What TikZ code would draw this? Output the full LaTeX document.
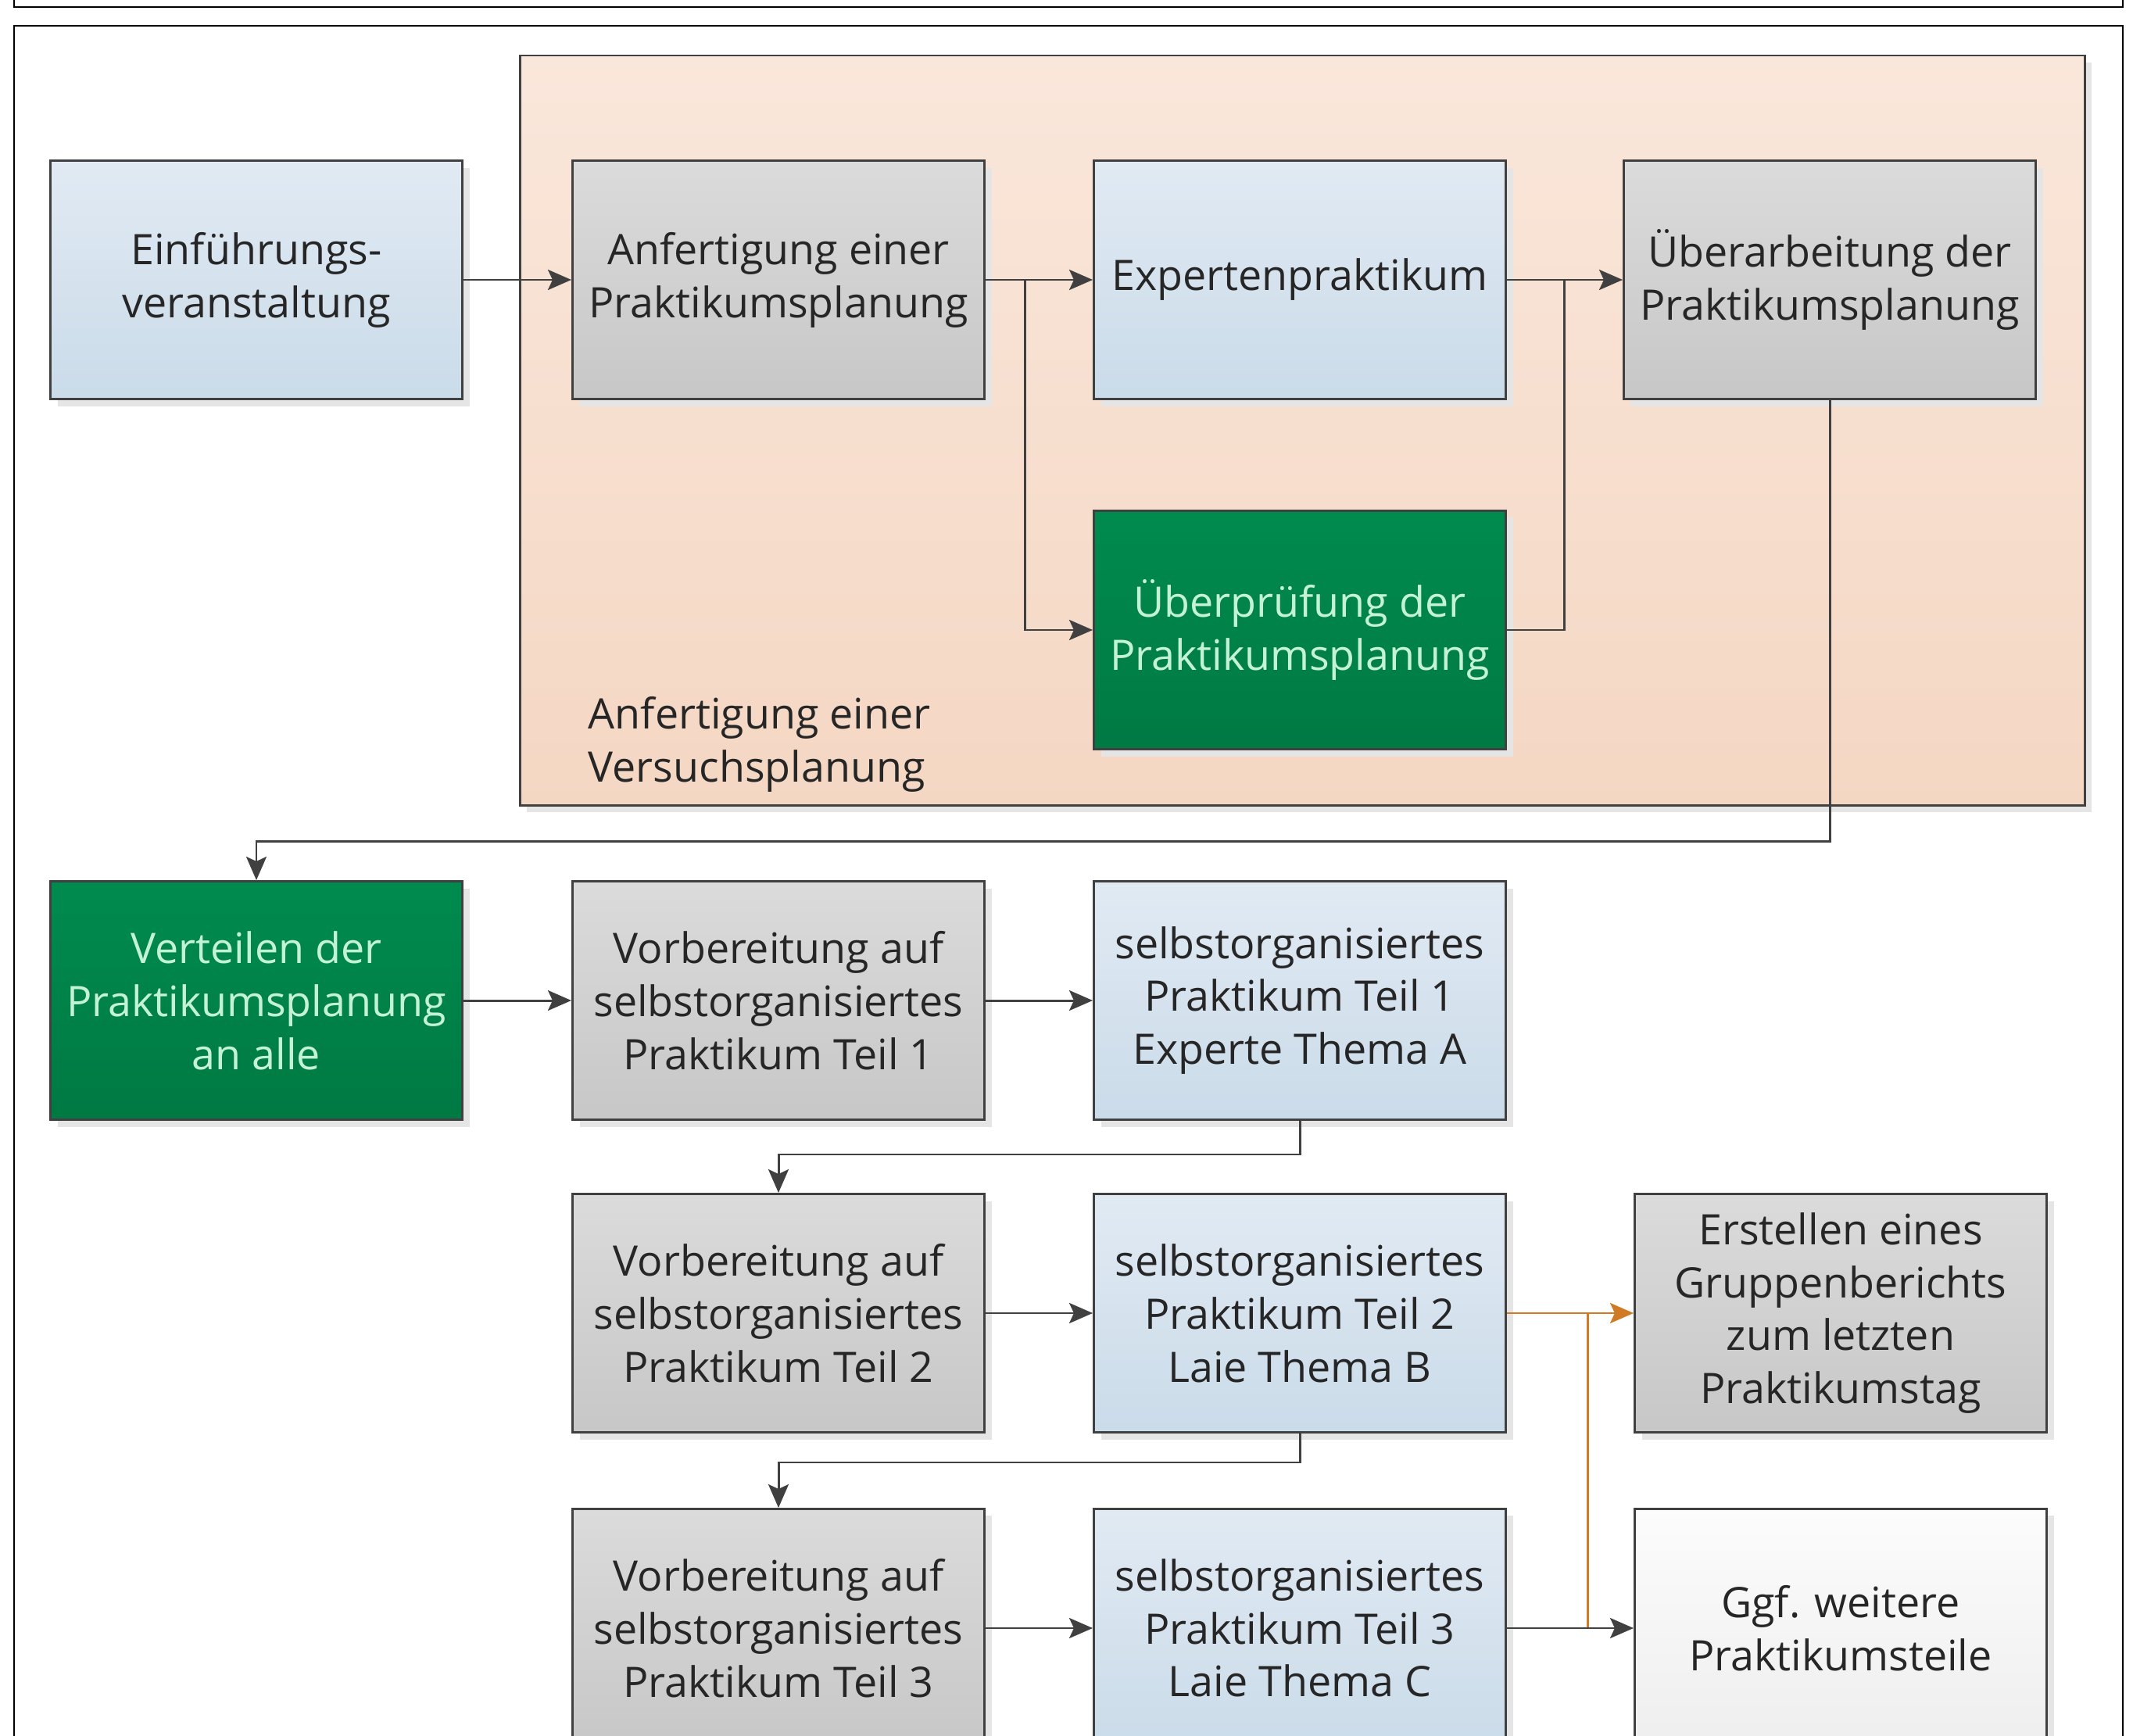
\documentclass[tikz,border=0pt]{standalone}
\usepackage{fontspec}
\setmainfont{Open Sans}
\usepackage{tikz}
\usetikzlibrary{arrows.meta,positioning,calc,shadows}

\definecolor{blueT}{HTML}{E1EAF3}
\definecolor{blueB}{HTML}{CADBE9}
\definecolor{grayT}{HTML}{DBDBDB}
\definecolor{grayB}{HTML}{C7C7C7}
\definecolor{greenT}{HTML}{008B4E}
\definecolor{greenB}{HTML}{007943}
\definecolor{greenTxt}{HTML}{C4F2D6}
\definecolor{peachT}{HTML}{FAE7DB}
\definecolor{peachB}{HTML}{F4D7C3}
\definecolor{whiteT}{HTML}{FCFCFC}
\definecolor{whiteB}{HTML}{EEEEEE}
\definecolor{lineC}{HTML}{404040}
\definecolor{textC}{HTML}{262626}
\definecolor{hiC}{HTML}{D07A24}

\newcommand{\boxfont}{\fontsize{15.3pt}{19.3pt}\selectfont}

\begin{document}
\begin{tikzpicture}[node distance=1.37cm]
      \tikzstyle{box}=[rectangle,draw=lineC,line width=0.85pt,minimum width=5.27cm,minimum height=3.05cm,
        align=center,text=textC,font=\boxfont,
        drop shadow={shadow xshift=0.09cm,shadow yshift=-0.09cm,fill=black!10,opacity=1}]
      \tikzstyle{bluebox}=[box,top color=blueT,bottom color=blueB]
      \tikzstyle{graybox}=[box,top color=grayT,bottom color=grayB]
      \tikzstyle{greenbox}=[box,top color=greenT,bottom color=greenB,text=greenTxt]
      \tikzstyle{lightbox}=[box,top color=whiteT,bottom color=whiteB]
      \tikzstyle{line}=[draw=lineC,line width=0.85pt]
      \tikzstyle{arr}=[line,-{Stealth[length=0.3cm,width=0.26cm,inset=0.06cm]}]
      \tikzstyle{hiline}=[draw=hiC,line width=0.85pt]
      \tikzstyle{hiarr}=[hiline,-{Stealth[length=0.3cm,width=0.26cm,inset=0.06cm]}]
      \useasboundingbox (0,0) rectangle (27.29,-22.20);
      % frames
      \draw[black,line width=0.6pt] (0.18,1) rectangle (27.16,-0.093);
      \draw[black,line width=0.6pt] (0.18,-0.327) rectangle (27.16,-23);
      % group
      \draw[line,top color=peachT,bottom color=peachB,
        drop shadow={shadow xshift=0.09cm,shadow yshift=-0.09cm,fill=black!10,opacity=1}]
        (6.65,-0.71) rectangle (26.67,-10.30);
      \node[anchor=west,align=left,inner sep=0pt,text=textC,font=\boxfont] (grp) at (7.52,-9.52)
        {Anfertigung einer\\Versuchsplanung};
      % first part
      \node[bluebox] (einf) at (3.28,-3.58) {Einführungs-\\veranstaltung};
      \node[graybox,right=1.38cm of einf] (anf) {Anfertigung einer\\Praktikumsplanung};
      \node[bluebox,right=of anf] (exp) {Expertenpraktikum};
      \node[graybox,right=1.48cm of exp] (ueb) {Überarbeitung der\\Praktikumsplanung};
      \node[greenbox,below=1.40cm of exp] (pruef) {Überprüfung der\\Praktikumsplanung};
      % second part
      \node[greenbox,below=6.14cm of einf] (vert) {Verteilen der\\Praktikumsplanung\\an alle};
      \node[graybox,right=1.38cm of vert] (vorb1) {Vorbereitung auf\\selbstorganisiertes\\Praktikum Teil 1};
      \node[bluebox,right=of vorb1] (sel1) {selbstorganisiertes\\Praktikum Teil 1\\Experte Thema A};
      \node[graybox,below=0.92cm of vorb1] (vorb2) {Vorbereitung auf\\selbstorganisiertes\\Praktikum Teil 2};
      \node[bluebox,right=of vorb2] (sel2) {selbstorganisiertes\\Praktikum Teil 2\\Laie Thema B};
      \node[graybox,right=1.62cm of sel2] (erst) {Erstellen eines\\Gruppenberichts\\zum letzten\\Praktikumstag};
      \node[graybox,below=0.95cm of vorb2] (vorb3) {Vorbereitung auf\\selbstorganisiertes\\Praktikum Teil 3};
      \node[bluebox,right=of vorb3] (sel3) {selbstorganisiertes\\Praktikum Teil 3\\Laie Thema C};
      \node[lightbox,right=1.62cm of sel3] (ggf) {Ggf. weitere\\Praktikumsteile};
      % connectors
      \coordinate (s1) at ($(anf.east)+(0.5,0)$);
      \coordinate (m1) at ($(exp.east)+(0.73,0)$);
      \coordinate (k1) at ($(ueb.south)+(0,-5.64)$);
      \coordinate (k2) at ($(sel1.south)+(0,-0.43)$);
      \coordinate (k3) at ($(sel2.south)+(0,-0.37)$);
      \coordinate (j2) at ($(sel2.east)+(1.03,0)$);
      \draw[arr] (einf) -- (anf);
      \draw[arr] (anf) -- (exp);
      \draw[arr] (s1) |- (pruef);
      \draw[arr] (exp) -- (ueb);
      \draw[line] (pruef) -| (m1);
      \draw[arr] (ueb) -- (k1) -| (vert);
      \draw[arr] (vert) -- (vorb1);
      \draw[arr] (vorb1) -- (sel1);
      \draw[arr] (sel1) -- (k2) -| (vorb2);
      \draw[arr] (vorb2) -- (sel2);
      \draw[arr] (sel2) -- (k3) -| (vorb3);
      \draw[arr] (vorb3) -- (sel3);
      \draw[hiarr] (sel2) -- (erst);
      \draw[hiline] (j2) -- (j2 |- sel3.east);
      \draw[arr] (sel3) -- (ggf);
    \end{tikzpicture}
\end{document}
